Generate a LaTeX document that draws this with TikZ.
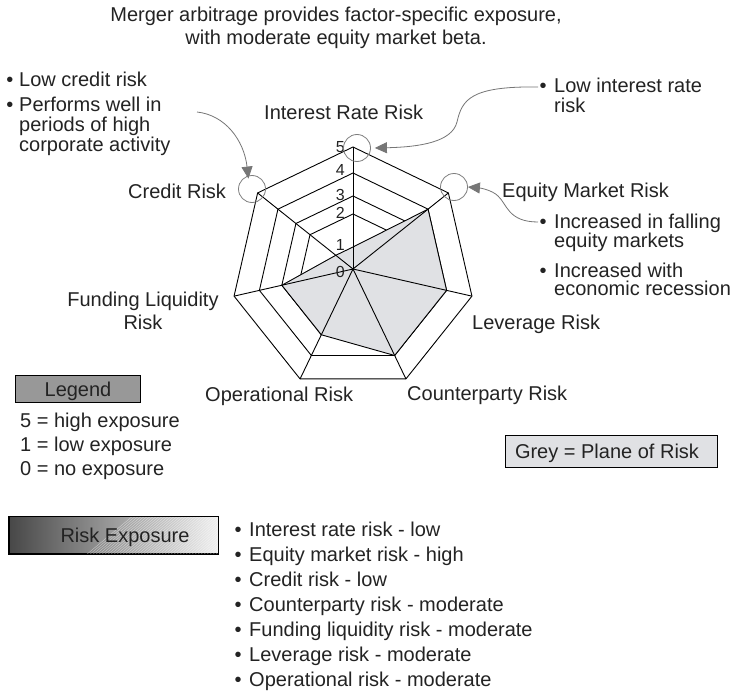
\documentclass[tikz,border=0pt]{standalone}
\usepackage{fontspec}
\setmainfont{Liberation Sans}
\usetikzlibrary{arrows.meta,calc}
\definecolor{plane}{RGB}{224,225,228}
\definecolor{legfill}{RGB}{152,152,152}
\definecolor{circgray}{RGB}{125,125,125}
\definecolor{arrgray}{RGB}{118,118,118}
\definecolor{ink}{RGB}{35,35,35}
\begin{document}
\begin{tikzpicture}[x=1bp,y=-1bp,
  lbl/.style={inner sep=0pt, font=\fontsize{20bp}{24bp}\selectfont, text=ink},
  lw/.style={lbl, anchor=base west},
  lc/.style={lbl, anchor=base},
  num/.style={inner sep=0pt, font=\fontsize{16bp}{16bp}\selectfont, text=ink, anchor=base east},
  grid/.style={draw=black, line width=0.9bp, line join=miter},
  hl/.style={circle, draw=circgray, line width=0.8bp, minimum size=27bp, inner sep=0pt},
  arr/.style={draw=arrgray, line width=0.8bp, -{Triangle[length=12bp,width=11bp]}},
  box/.style={draw=black, line width=0.9bp, inner sep=0pt}
]
\useasboundingbox (0,0) rectangle (735,694);
\fill[white] (0,0) rectangle (735,694);

% title
\node[lc] (t1) at (336,22) {Merger arbitrage provides factor-specific exposure,};
\node[lc] (t2) at (336,45) {with moderate equity market beta.};

% radar chart
\coordinate (O) at (353,269);
\foreach \r in {122,96,73,55}{
  \draw[grid] ($(O)+(90:\r bp)$)
    \foreach \a in {38.5714,-12.8571,-64.2857,-115.7143,-167.1429,141.4286}{ -- ($(O)+(\a:\r bp)$)} -- cycle;
}
\filldraw[grid, fill=plane] ($(O)+(90:22bp)$) -- ($(O)+(38.5714:96bp)$) -- ($(O)+(-12.8571:96bp)$)
  -- ($(O)+(-64.2857:96bp)$) -- ($(O)+(-115.7143:73bp)$) -- ($(O)+(-167.1429:73bp)$)
  -- ($(O)+(141.4286:22bp)$) -- cycle;
\foreach \a in {90,38.5714,-12.8571,-64.2857,-115.7143,-167.1429,141.4286}{
  \draw[grid] (O) -- ($(O)+(\a:122bp)$);
}

% scale numbers
\node[num] (n5) at (345,152) {5};
\node[num] (n4) at (345,175) {4};
\node[num] (n3) at (345,200) {3};
\node[num] (n2) at (345,218) {2};
\node[num] (n1) at (345,250) {1};
\node[num] (n0) at (345,277) {0};

% axis labels
\node[lw] (lIR) at (264,120) {Interest Rate Risk};
\node[lw] (lEM) at (502,197) {Equity Market Risk};
\node[lw] (lLV) at (472,329) {Leverage Risk};
\node[lw] (lCP) at (407,400) {Counterparty Risk};
\node[lw] (lOP) at (205,401) {Operational Risk};
\node[lc] (lFL1) at (143,306) {Funding Liquidity};
\node[lc] (lFL2) at (143,329) {Risk};
\node[lw] (lCR) at (128,198) {Credit Risk};

% highlight circles
\node[hl] (cI) at (357,148) {};
\node[hl] (cC) at (252,189) {};
\node[hl] (cE) at (454,187) {};

% callout texts
\node[lc] (b1) at (10,87) {•};
\node[lw] (c1) at (19,87) {Low credit risk};
\node[lc] (b2) at (10,112) {•};
\node[lw] (c2) at (19,112) {Performs well in};
\node[lw] (c3) at (19,132) {periods of high};
\node[lw] (c4) at (19,151) {corporate activity};

\node[lc] (b3) at (543,93) {•};
\node[lw] (i1) at (554,93) {Low interest rate};
\node[lw] (i2) at (554,113) {risk};

\node[lc] (b4) at (543,228) {•};
\node[lw] (e1) at (554,228) {Increased in falling};
\node[lw] (e2) at (554,247) {equity markets};
\node[lc] (b5) at (543,277) {•};
\node[lw] (e3) at (554,277) {Increased with};
\node[lw] (e4) at (554,295) {economic recession};

% arrows
\coordinate (sI) at (538,87);
\coordinate (sE) at (538,222);
\coordinate (sC) at (197,112);
\draw[arr] (sI) .. controls (470,86) and (462,100) .. (457,122)
  .. controls (452,142) and (420,147) .. ([xshift=4bp]cI.east);
\draw[arr] (sE) .. controls (508,222) and (507,204) .. (498,196)
  .. controls (492,190) and (480,188) .. (cE.east);
\draw[arr] (sC) .. controls (225,115) and (244,140) .. ([yshift=-3bp]cC.105);

% legend
\node[box, fill=legfill, minimum width=125bp, minimum height=27bp] (legbox) at (77.5,388.5) {};
\node[lc] (legtxt) at (78,396) {Legend};
\node[lw] (g1) at (20,427) {5 = high exposure};
\node[lw] (g2) at (20,451) {1 = low exposure};
\node[lw] (g3) at (20,475) {0 = no exposure};

% grey box
\node[box, fill=plane, minimum width=212bp, minimum height=32bp] (greybox) at (611,451) {};
\node[lc] (greytxt) at (607,458) {Grey = Plane of Risk};

% risk exposure box
\node[box, left color=black!72, right color=black!6, minimum width=209bp, minimum height=37bp] (rebox) at (113.5,535) {};
\begin{scope}
  \clip (rebox.south west) rectangle (rebox.north east);
  \foreach \k in {0,3,...,180}{
    \draw[white, line width=0.35bp, opacity=0.55] (80+\k,560) -- (140+\k,510);
  }
\end{scope}
\draw[box] (rebox.south west) rectangle (rebox.north east);
\node[lc] (retxt) at (125,542) {Risk Exposure};

% list
\foreach \t [count=\i] in {Interest rate risk - low, Equity market risk - high, Credit risk - low,
  Counterparty risk - moderate, Funding liquidity risk - moderate, Leverage risk - moderate,
  Operational risk - moderate}{
  \node[lc] (lb\i) at (238,{536+25.1*(\i-1)}) {•};
  \node[lw] (lt\i) at (249,{536+25.1*(\i-1)}) {\t};
}
\end{tikzpicture}
\end{document}
